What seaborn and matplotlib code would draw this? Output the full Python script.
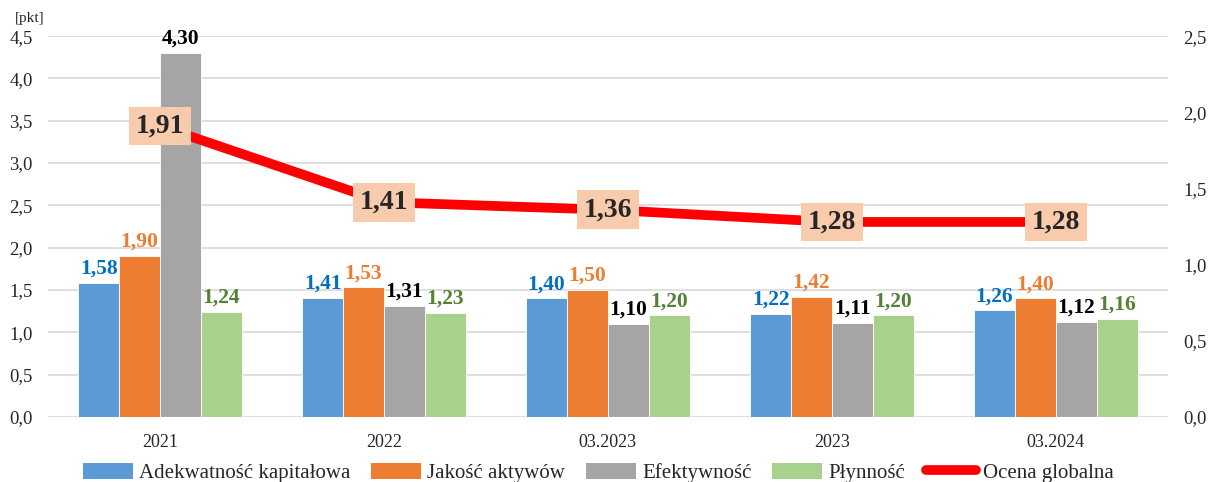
import pandas as pd
import numpy as np
import matplotlib
matplotlib.use("Agg")
import matplotlib.pyplot as plt
import seaborn as sns
from matplotlib.lines import Line2D
from matplotlib.patches import Patch

okresy = ["2021", "2022", "03.2023", "2023", "03.2024"]
adekwatnosc = [1.58, 1.41, 1.40, 1.22, 1.26]
jakosc = [1.90, 1.53, 1.50, 1.42, 1.40]
efektywnosc = [4.30, 1.31, 1.10, 1.11, 1.12]
plynnosc = [1.24, 1.23, 1.20, 1.20, 1.16]
ocena = [1.91, 1.41, 1.36, 1.28, 1.28]

serie = ["Adekwatność kapitałowa", "Jakość aktywów", "Efektywność", "Płynność"]
kolory = ["#5B9BD5", "#ED7D31", "#A5A5A5", "#A9D18E"]
kolory_etykiet = ["#0070C0", "#ED7D31", "#000000", "#548235"]

sns.set_style("white")
plt.rcParams['font.family'] = ['Liberation Serif', 'DejaVu Serif']

df = pd.DataFrame({
    "okres": okresy * 4,
    "seria": sum([[s] * len(okresy) for s in serie], []),
    "wartosc": adekwatnosc + jakosc + efektywnosc + plynnosc,
})

fig = plt.figure(figsize=(12.08, 4.82), dpi=100)
ax = fig.add_axes([0.0397, 0.135, 0.927, 0.79])

sns.barplot(data=df, x="okres", y="wartosc", hue="seria", order=okresy,
            hue_order=serie, palette=kolory, saturation=1, width=0.73, gap=0,
            edgecolor="white", linewidth=0.6, ax=ax, legend=False)

for cont, kol in zip(ax.containers, kolory_etykiet):
    labels = [f"{b.get_height():.2f}".replace(".", ",") for b in cont]
    ax.bar_label(cont, labels=labels, padding=3, color=kol,
                 fontsize=15.5, fontweight="bold")

ax.set_ylim(0, 4.5)
ax.set_xlim(-0.5, 4.5)
ax.set_yticks(np.arange(0, 4.51, 0.5))
ax.set_yticklabels([f"{v:.1f}".replace(".", ",") for v in np.arange(0, 4.51, 0.5)])
ax.yaxis.grid(True, color="#D9D9D9", linewidth=1.2)
ax.set_axisbelow(True)
for s in ax.spines.values():
    s.set_visible(False)
ax.set_xlabel("")
ax.set_ylabel("")
ax.tick_params(axis="y", length=0, labelsize=13.5, pad=11)
ax.tick_params(axis="x", length=0, labelsize=13, pad=12)

ax2 = ax.twinx()
ax2.plot(range(len(okresy)), ocena, color="#FF0000", linewidth=7,
         solid_capstyle="butt", zorder=3)
for i, v in enumerate(ocena):
    ax2.text(i, v, f"{v:.2f}".replace(".", ","), ha="center", va="center",
             fontsize=20, fontweight="bold", zorder=4,
             bbox=dict(boxstyle="square,pad=0.25", facecolor="#F8CBAD",
                       edgecolor="none"))
ax2.set_ylim(0, 2.5)
ax2.set_yticks(np.arange(0, 2.51, 0.5))
ax2.set_yticklabels([f"{v:.1f}".replace(".", ",") for v in np.arange(0, 2.51, 0.5)])
ax2.tick_params(axis="y", length=0, labelsize=13.5, pad=11)
for s in ax2.spines.values():
    s.set_visible(False)

fig.text(0.012, 0.955, "[pkt]", fontsize=11)

uchwyty = [Patch(facecolor=k, edgecolor="none") for k in kolory]
uchwyty.append(Line2D([0], [0], color="#FF0000", linewidth=7))
fig.legend(uchwyty, serie + ["Ocena globalna"], loc="lower center",
           bbox_to_anchor=(0.495, -0.041), ncol=5, frameon=False, fontsize=15,
           handlelength=2.4, handleheight=0.8, handletextpad=0.3,
           columnspacing=1.0)

plt.savefig("out.png", dpi=100)
